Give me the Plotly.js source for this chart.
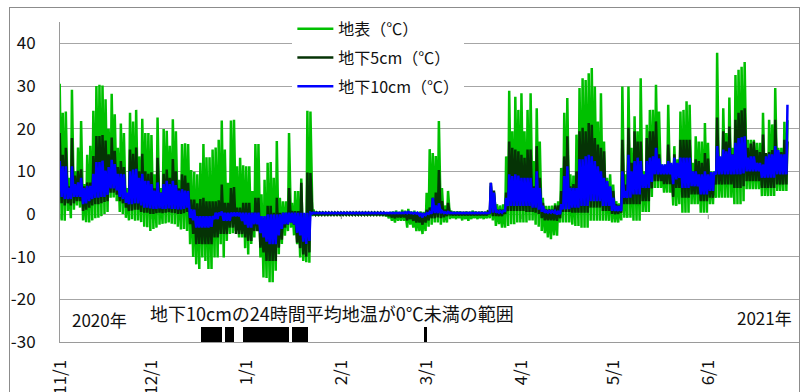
<!DOCTYPE html>
<html><head><meta charset="utf-8">
<script src="https://cdn.plot.ly/plotly-3.0.1.min.js"></script>
<style>
html,body{margin:0;padding:0;background:#fff;overflow:hidden}
#chart{width:803px;height:392px}
#frame{position:absolute;left:9px;top:7px;width:791px;height:400px;border:1.5px solid #8c8c8c;box-sizing:border-box;pointer-events:none}
</style></head><body>
<div id="chart"></div><div id="frame"></div>
<script>
// Daily range of each series, day 0 = 2020-11-01
const firstDay = '2020-11-01';
const gMax = [30.5,23.7,24.0,8.5,29.1,10.0,15.6,21.8,7.0,13.9,
16.0,24.2,30.0,30.3,30.1,26.9,20.0,28.2,23.4,15.5,
21.2,19.0,6.1,23.7,21.7,24.4,13.5,22.3,19.0,19.0,
18.5,9.3,22.6,6.1,19.9,19.5,16.0,22.2,19.4,8.0,
16.4,16.6,16.4,10.3,9.9,9.3,12.0,16.4,13.3,13.3,
15.1,15.6,17.4,21.9,15.1,7.3,21.9,22.1,11.2,13.2,
11.4,11.2,11.2,5.4,16.4,16.4,4.6,8.0,12.0,12.2,
8.5,17.1,3.8,3.0,3.0,19.0,2.6,5.4,5.4,8.3,
0.0,24.2,24.0,1.0,0.5,0.5,0.5,0.4,0.4,0.4,
0.4,0.4,0.4,0.4,0.4,0.4,0.4,0.4,0.4,0.4,
0.4,0.4,0.4,0.4,0.4,0.4,0.4,0.4,0.5,0.6,
0.8,0.5,1.0,0.8,1.2,0.6,0.8,0.5,0.6,0.5,
5.0,15.2,14.3,13.6,21.8,6.1,2.0,5.4,0.8,0.6,
0.6,0.6,0.5,0.6,0.5,0.8,0.6,0.5,0.6,0.5,
0.8,6.5,5.0,2.3,2.0,2.3,13.5,28.9,19.4,27.5,
24.4,28.3,19.4,24.4,28.3,12.4,24.8,17.0,3.8,1.9,
1.9,2.0,2.5,3.0,10.8,23.7,27.2,9.3,9.0,18.6,
29.5,31.8,31.4,33.0,34.2,29.9,21.7,28.3,17.0,8.5,
9.3,6.9,3.0,2.5,29.9,9.3,29.9,15.5,22.9,19.4,
31.8,10.0,20.9,24.4,24.4,30.3,24.0,11.6,11.6,25.6,
11.6,15.9,12.8,24.0,24.4,26.4,25.6,12.0,18.2,17.0,
17.0,21.3,16.7,10.0,10.0,37.8,13.2,24.8,19.0,27.3,
15.5,32.6,33.8,34.5,35.6,17.4,17.4,17.4,16.7,16.7,
23.7,14.0,22.1,21.0,29.5,15.5,15.5,21.6,22.0];
const gMin = [-2.4,-1.5,-1.6,0.7,-1.0,1.0,2.0,1.5,-1.5,-1.9,
-2.0,-1.5,-1.0,-0.9,-0.5,0.0,0.5,3.8,3.9,3.0,
0.5,0.0,-0.9,-1.5,-1.2,-1.6,-1.5,-1.9,-3.0,-3.1,
-4.0,-3.5,-3.2,-2.5,-2.3,-2.2,-2.0,-2.3,-2.4,-3.0,
-3.6,-3.5,-4.0,-7.1,-10.1,-11.8,-12.9,-10.2,-11.0,-12.9,
-12.9,-10.2,-10.2,-7.1,-10.2,-6.3,-4.7,-4.5,-4.0,-5.5,
-5.5,-8.0,-9.5,-7.0,-5.5,-4.0,-10.2,-14.9,-15.0,-16.0,
-16.0,-13.3,-9.4,-7.0,-5.1,-4.0,-3.2,-5.0,-7.1,-10.2,
-11.0,-11.3,-11.4,-0.5,-0.4,-0.4,-0.3,-0.3,-0.3,-0.3,
-0.3,-0.3,-0.3,-0.3,-0.3,-0.3,-0.3,-0.3,-0.3,-0.3,
-0.3,-0.3,-0.3,-0.3,-0.3,-0.3,-0.4,-0.5,-1.0,-1.6,
-2.0,-1.6,-1.6,-1.6,-3.2,-2.5,-3.2,-4.0,-4.0,-4.7,
-4.0,-3.0,-2.5,-2.0,-2.0,-2.5,-2.0,-2.0,-1.2,-1.0,
-1.2,-1.0,-1.5,-1.2,-1.6,-1.2,-1.0,-1.2,-1.0,-1.2,
-1.0,-1.0,-1.5,-2.8,-2.4,-3.2,-3.2,-2.8,-2.4,-2.4,
-2.0,-2.0,-2.0,-2.0,-1.5,-1.5,-2.5,-3.0,-4.0,-4.5,
-5.5,-5.9,-5.0,-5.1,-2.0,-2.0,-2.0,-2.0,-2.5,-2.8,
-2.8,-3.2,-3.2,-3.2,-1.6,-1.6,-1.6,-1.6,-1.6,-1.6,
-1.6,-2.0,-2.0,-2.0,-1.5,-0.9,-0.9,-0.9,-1.6,-1.6,
-1.6,0.5,0.5,0.5,4.0,6.1,6.1,6.1,5.0,5.0,
5.0,2.0,1.9,2.3,0.3,0.3,0.3,2.3,2.3,2.3,
0.3,0.3,0.3,2.3,2.3,3.8,3.8,3.8,3.8,3.8,
3.8,2.3,2.3,2.3,3.0,5.8,5.8,5.8,5.8,5.8,
4.2,4.2,4.2,4.2,4.2,5.4,5.4,5.4,5.4];
const dMax = [19.0,13.9,15.5,6.5,17.8,9.0,10.1,10.5,6.5,7.4,
7.4,13.6,18.3,18.3,18.5,17.2,14.0,17.9,14.8,11.0,
12.4,11.0,4.6,15.1,14.1,15.6,10.0,14.1,10.0,9.4,
9.8,6.0,13.2,5.0,9.4,10.4,8.5,12.9,10.0,6.0,
9.3,9.0,7.3,3.4,3.4,2.5,3.5,3.8,3.0,3.0,
3.0,3.0,3.2,6.9,2.6,2.6,6.1,6.3,1.5,1.5,
2.6,2.6,2.6,0.3,3.8,3.8,-0.9,-0.9,1.9,1.9,
0.3,3.8,0.3,0.3,0.3,6.1,0.7,0.7,0.7,7.3,
-1.6,9.7,9.6,0.5,0.3,0.3,0.3,0.3,0.3,0.3,
0.3,0.3,0.3,0.3,0.3,0.3,0.3,0.3,0.3,0.3,
0.3,0.3,0.3,0.3,0.3,0.3,0.3,0.3,0.3,0.3,
0.4,0.3,0.5,0.4,0.6,0.3,0.4,0.3,0.3,0.2,
1.0,1.5,3.8,5.0,10.3,3.0,1.0,2.6,0.5,0.4,
0.4,0.4,0.4,0.4,0.4,0.4,0.4,0.4,0.4,0.4,
0.5,7.3,5.5,1.0,1.0,1.0,5.0,17.0,15.5,15.1,
14.7,13.9,13.2,15.1,15.1,6.5,15.9,8.5,2.6,1.1,
1.1,1.0,2.0,2.0,5.4,13.5,18.2,6.5,7.0,10.0,
19.4,20.2,19.4,21.3,20.9,17.8,16.3,15.5,14.7,7.7,
6.1,5.4,2.3,2.0,17.4,6.9,20.2,12.0,19.4,17.0,
17.0,8.5,17.8,19.4,19.4,21.7,14.0,11.0,11.0,16.3,
11.0,14.0,11.6,17.4,17.4,17.4,17.4,10.0,12.8,12.4,
12.0,14.3,13.0,9.8,9.8,22.6,12.8,19.4,17.0,20.5,
14.0,22.1,23.7,24.3,24.8,15.5,16.5,17.0,15.0,14.5,
18.6,14.3,14.5,15.0,22.1,14.5,14.5,17.4,17.0];
const dMin = [3.0,2.5,2.0,2.5,2.0,2.5,3.0,3.0,0.7,1.0,
1.5,2.0,2.3,2.3,2.5,2.8,3.0,5.0,5.0,4.5,
3.0,2.5,1.5,0.7,0.8,1.0,1.0,0.5,0.3,0.3,
0.0,0.0,0.2,0.3,0.2,0.3,0.4,0.3,0.2,0.0,
0.0,0.2,0.5,-2.4,-4.7,-7.1,-7.0,-7.1,-7.1,-7.1,
-7.1,-5.5,-5.5,-4.7,-4.7,-4.7,-3.2,-3.2,-4.7,-4.7,
-4.7,-5.5,-6.3,-6.3,-4.0,-4.0,-7.9,-9.0,-11.0,-11.0,
-11.0,-11.0,-7.9,-6.0,-3.2,-2.5,-2.0,-2.5,-6.7,-8.0,
-9.5,-10.0,-9.0,-0.3,-0.2,-0.2,-0.2,-0.2,-0.2,-0.2,
-0.2,-0.2,-0.2,-0.2,-0.2,-0.2,-0.2,-0.2,-0.2,-0.2,
-0.2,-0.2,-0.2,-0.2,-0.2,-0.2,-0.2,-0.2,-0.5,-0.8,
-1.0,-0.8,-0.8,-0.8,-1.5,-1.2,-1.6,-2.0,-2.0,-2.5,
-2.0,-1.5,-1.0,-1.0,-0.8,-1.0,-0.8,-0.5,-0.3,-0.3,
-0.3,-0.3,-0.3,-0.3,-0.3,-0.3,-0.3,-0.3,-0.3,-0.3,
-0.3,0.0,-0.5,-0.5,-0.5,-0.5,0.0,0.7,0.7,0.7,
0.7,0.7,0.7,0.5,0.5,0.5,0.3,0.0,-1.0,-1.5,
-1.5,-1.5,-1.5,-1.6,-1.0,0.5,0.5,0.5,0.3,0.3,
0.3,0.3,0.3,0.3,1.5,1.5,1.5,1.5,0.7,0.7,
0.7,0.0,-0.1,0.0,0.3,2.3,2.3,2.3,2.3,2.3,
2.3,3.0,3.0,3.0,6.0,7.7,7.7,7.7,7.0,7.0,
7.0,4.0,6.1,6.1,3.8,3.8,3.8,4.6,4.6,4.6,
3.0,3.0,3.0,3.8,3.8,6.9,6.9,6.9,6.9,6.9,
6.9,6.1,6.1,6.1,6.5,7.7,7.7,7.7,7.7,7.7,
6.1,6.1,6.1,6.1,6.1,6.9,6.9,6.9,6.9];
const bMax = [12.4,11.2,11.2,6.1,11.2,7.0,7.4,8.5,6.1,6.6,
6.6,9.4,12.2,12.2,12.5,10.2,11.0,12.7,11.7,9.4,
9.4,9.3,5.0,10.0,10.4,10.6,8.5,9.4,7.8,7.8,
7.0,5.5,7.4,5.0,7.0,7.8,7.0,7.8,6.8,5.5,
5.8,5.5,5.4,1.1,1.0,-0.5,-0.5,-0.5,-0.5,-0.5,
-0.5,0.3,0.3,0.6,0.3,0.3,0.3,0.3,0.3,0.3,
0.3,0.3,0.3,0.3,0.3,0.3,-0.5,-0.5,-0.1,-0.1,
-0.1,-0.1,-0.1,0.3,0.3,0.3,0.3,0.3,0.3,0.3,
0.3,0.3,0.3,0.3,0.3,0.3,0.3,0.3,0.3,0.3,
0.3,0.3,0.3,0.3,0.3,0.3,0.3,0.3,0.3,0.3,
0.3,0.3,0.3,0.3,0.3,0.3,0.3,0.3,0.3,0.3,
0.3,0.3,0.3,0.4,0.5,0.3,0.3,0.3,0.2,0.0,
0.2,0.5,3.8,2.0,2.5,0.7,0.4,0.5,0.3,0.3,
0.3,0.3,0.3,0.3,0.3,0.3,0.3,0.3,0.3,0.3,
0.3,7.3,5.0,0.7,0.7,0.7,3.8,9.3,8.9,9.3,
9.0,8.5,8.5,8.5,8.5,6.1,10.0,6.1,1.9,0.7,
0.7,0.7,0.7,0.5,2.3,8.9,11.2,6.1,6.1,6.1,
12.8,12.8,13.5,13.9,13.5,12.4,11.2,10.0,8.5,7.7,
6.5,3.8,1.9,1.9,10.0,5.4,13.9,10.0,12.4,13.2,
12.4,9.3,12.4,13.2,13.5,15.5,13.0,11.6,11.6,12.4,
12.0,13.2,12.0,13.2,13.2,13.2,13.2,10.0,10.0,9.3,
9.3,10.0,9.3,9.8,9.8,15.9,13.5,15.1,14.7,15.5,
13.9,16.7,17.8,18.0,18.2,13.2,13.5,13.5,12.0,12.0,
11.6,13.5,14.0,14.0,15.9,15.0,14.0,14.0,25.6];
const bMin = [3.8,4.0,3.5,3.5,3.5,4.0,4.0,4.0,2.3,2.5,
3.0,3.5,3.8,3.8,4.0,4.0,4.5,6.0,6.0,5.5,
4.0,3.5,2.6,2.3,2.3,2.5,2.5,2.0,1.5,1.5,
1.3,1.2,1.2,1.3,1.2,1.2,1.3,1.2,1.2,1.1,
1.1,1.2,1.5,-0.9,-1.5,-3.2,-3.2,-3.2,-3.2,-3.2,
-3.0,-1.2,-1.2,-0.3,-1.6,-1.6,-1.6,-0.5,-0.5,-0.5,
-1.6,-2.5,-3.2,-3.2,-2.4,-2.4,-4.5,-5.5,-6.5,-7.1,
-7.1,-7.1,-5.0,-3.5,-2.4,-2.4,-2.0,-2.4,-4.4,-5.0,
-6.5,-7.0,-6.3,0.1,0.2,0.2,0.2,0.2,0.2,0.2,
0.2,0.2,0.2,0.2,0.2,0.2,0.2,0.2,0.2,0.2,
0.2,0.2,0.2,0.2,0.2,0.2,0.2,0.2,0.2,0.2,
0.2,0.2,0.2,0.2,0.2,0.2,0.1,0.1,-0.3,-0.8,
-0.3,0.0,0.1,0.2,0.2,0.2,0.2,0.2,0.2,0.2,
0.2,0.2,0.2,0.2,0.2,0.2,0.2,0.2,0.2,0.2,
0.2,0.3,0.3,0.3,0.3,0.3,0.7,1.9,1.9,1.9,
1.9,1.9,1.9,1.9,1.9,1.5,1.5,1.0,0.5,0.3,
0.3,0.3,0.3,-0.1,0.0,1.1,1.1,1.1,1.5,1.5,
1.5,1.9,1.9,1.9,3.0,3.0,3.0,3.0,1.9,1.9,
1.9,0.7,0.7,0.7,0.7,3.8,3.8,3.8,4.6,4.6,
4.6,6.1,6.1,6.1,7.5,9.3,9.3,9.3,9.3,9.3,
9.3,7.0,8.1,8.5,6.1,6.1,6.1,6.5,6.5,6.5,
4.6,4.6,4.6,5.4,5.4,9.3,9.3,9.3,9.3,9.3,
9.3,9.3,9.3,9.3,9.5,10.0,10.0,10.0,10.0,10.0,
8.5,8.5,8.5,8.5,8.5,9.3,9.3,9.3,9.3];

const seriesNames = ['地表（℃）','地下5cm（℃）','地下10cm（℃）'];
// Periods where the 24h mean at 10cm was below 0℃ (start inclusive, end exclusive)
const freezeStart = ['2020-12-17','2020-12-25','2020-12-31','2021-01-16','2021-02-28'];
const freezeEnd   = ['2020-12-24','2020-12-28','2021-01-15','2021-01-21','2021-03-01'];
const tickDates = ['2020-11-01','2020-12-01','2021-01-01','2021-02-01','2021-03-01','2021-04-01','2021-05-01','2021-06-01'];
const tickLabels = ['11/1','12/1','1/1','2/1','3/1','4/1','5/1','6/1'];
const yTickVals = [-30,-20,-10,0,10,20,30,40];
const yTickText = ['-30','-20','-10','0','10','20','30','40'];
const xRange = ['2020-11-01','2021-07-01'];
const yRange = [-30,45];

const DAY = 86400000;
const t0 = Date.parse(firstDay);
function fmt(ms){ return new Date(ms).toISOString().slice(0,19).replace('T',' '); }
function zigzag(mins, maxs){
  const x=[], y=[];
  for(let i=0;i<mins.length;i++){
    x.push(fmt(t0+(i-0.45)*DAY)); y.push(mins[i]);
    x.push(fmt(t0+(i-0.1)*DAY)); y.push(maxs[i]);
  }
  return {x,y};
}
const G = zigzag(gMin,gMax), D = zigzag(dMin,dMax), B = zigzag(bMin,bMax);
const colors = ['#00c000','#053305','#0000ff'];
const FONT = '"Noto Sans CJK JP", "Noto Sans", sans-serif';

const barX = freezeStart.map((s,i)=>fmt((Date.parse(s)+Date.parse(freezeEnd[i]))/2));
const barW = freezeStart.map((s,i)=>Date.parse(freezeEnd[i])-Date.parse(s));
const barH = 3.4;

const traces = [
  {type:'bar', x:barX, width:barW, y:barX.map(()=>barH), base:yRange[0], marker:{color:'#000', line:{width:0}}, showlegend:false, hoverinfo:'skip'},
  {type:'scatter', mode:'lines', x:G.x, y:G.y, name:seriesNames[0], legendgroup:'a', line:{color:colors[0], width:2.5}},
  {type:'scatter', mode:'lines', x:D.x, y:D.y, name:seriesNames[1], legendgroup:'b', line:{color:colors[1], width:2.5}},
  {type:'scatter', mode:'lines', x:B.x, y:B.y, name:seriesNames[2], legendgroup:'c', line:{color:colors[2], width:2.5}}
];

const shapes = tickDates.map(t=>({type:'line', xref:'x', yref:'y', x0:t, x1:t, y0:0, y1:-1.2, line:{color:'#8c8c8c', width:1}, layer:'below'}));

const layout = {
  width:803, height:392,
  margin:{l:60, r:3, t:22, b:50},
  paper_bgcolor:'#fff', plot_bgcolor:'#fff',
  font:{family:FONT, size:17, color:'#111'},
  hovermode:false,
  bargap:0,
  xaxis:{type:'date', range:xRange, tickvals:tickDates, ticktext:tickLabels, tickangle:-90,
    showgrid:false, zeroline:false, showline:true, linecolor:'#9a9a9a', linewidth:1,
    ticks:'outside', ticklen:10, tickcolor:'rgba(0,0,0,0)', tickfont:{family:FONT, size:17, color:'#111'}},
  yaxis:{range:yRange, tickvals:yTickVals, ticktext:yTickText, showgrid:true, gridcolor:'#a6a6a6', gridwidth:1,
    zeroline:false, showline:true, linecolor:'#9a9a9a', linewidth:1,
    ticks:'outside', ticklen:20, tickcolor:'rgba(0,0,0,0)', tickfont:{family:FONT, size:17, color:'#111'}},
  showlegend:true,
  legend:{x:0.314, xanchor:'left', y:1.032, yanchor:'top', bgcolor:'#fff', borderwidth:0,
    font:{family:FONT, size:16, color:'#111'}, tracegroupgap:5, traceorder:'grouped', itemwidth:36},
  annotations:[
    {xref:'paper', yref:'paper', x:0.0135, y:0.069, xanchor:'left', yanchor:'middle', text:'2020年', showarrow:false, font:{family:FONT, size:17, color:'#111'}},
    {xref:'paper', yref:'paper', x:0.119, y:0.0906, xanchor:'left', yanchor:'middle', text:'地下10cmの24時間平均地温が0℃未満の範囲', showarrow:false, font:{family:FONT, size:18, color:'#111'}},
    {xref:'paper', yref:'paper', x:0.992, y:0.0766, xanchor:'right', yanchor:'middle', text:'2021年', showarrow:false, font:{family:FONT, size:17, color:'#111'}}
  ],
  shapes:shapes
};
Plotly.newPlot('chart', traces, layout, {staticPlot:true, displayModeBar:false});
</script>
</body></html>
